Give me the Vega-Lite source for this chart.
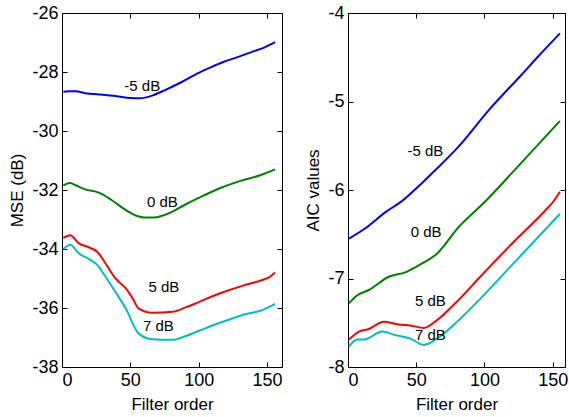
{
  "$schema": "https://vega.github.io/schema/vega-lite/v6.json",
  "padding": {"left": 8, "top": 3, "right": 0, "bottom": 0},
  "background": "white",
  "config": {
    "font": "Liberation Sans",
    "view": {"stroke": "black", "strokeWidth": 1},
    "axis": {
      "grid": false,
      "domain": false,
      "tickSize": -5,
      "tickColor": "black",
      "labelColor": "black",
      "labelFont": "Liberation Sans",
      "labelFontSize": 18,
      "labelPadding": 9,
      "labelExpr": "replace(datum.label, '\u2212', '-')",
      "titleFont": "Liberation Sans",
      "titleFontSize": 17,
      "titleFontWeight": "normal",
      "titleColor": "black"
    }
  },
  "datasets": {
    "mse": [
      {"order": 1, "value": -28.67, "snr": "-5 dB"},
      {"order": 5, "value": -28.65, "snr": "-5 dB"},
      {"order": 10, "value": -28.65, "snr": "-5 dB"},
      {"order": 17, "value": -28.72, "snr": "-5 dB"},
      {"order": 27, "value": -28.76, "snr": "-5 dB"},
      {"order": 40, "value": -28.82, "snr": "-5 dB"},
      {"order": 50, "value": -28.88, "snr": "-5 dB"},
      {"order": 57, "value": -28.89, "snr": "-5 dB"},
      {"order": 66, "value": -28.8, "snr": "-5 dB"},
      {"order": 75, "value": -28.62, "snr": "-5 dB"},
      {"order": 88, "value": -28.33, "snr": "-5 dB"},
      {"order": 100, "value": -28.03, "snr": "-5 dB"},
      {"order": 107.5, "value": -27.87, "snr": "-5 dB"},
      {"order": 118, "value": -27.66, "snr": "-5 dB"},
      {"order": 129.5, "value": -27.48, "snr": "-5 dB"},
      {"order": 140, "value": -27.3, "snr": "-5 dB"},
      {"order": 146.5, "value": -27.2, "snr": "-5 dB"},
      {"order": 156, "value": -26.99, "snr": "-5 dB"},
      {"order": 1, "value": -31.84, "snr": "0 dB"},
      {"order": 6, "value": -31.76, "snr": "0 dB"},
      {"order": 10, "value": -31.84, "snr": "0 dB"},
      {"order": 17, "value": -31.98, "snr": "0 dB"},
      {"order": 27, "value": -32.09, "snr": "0 dB"},
      {"order": 36, "value": -32.33, "snr": "0 dB"},
      {"order": 46, "value": -32.66, "snr": "0 dB"},
      {"order": 55, "value": -32.88, "snr": "0 dB"},
      {"order": 60, "value": -32.93, "snr": "0 dB"},
      {"order": 67, "value": -32.93, "snr": "0 dB"},
      {"order": 80, "value": -32.75, "snr": "0 dB"},
      {"order": 90, "value": -32.5, "snr": "0 dB"},
      {"order": 100, "value": -32.27, "snr": "0 dB"},
      {"order": 115, "value": -31.95, "snr": "0 dB"},
      {"order": 130, "value": -31.7, "snr": "0 dB"},
      {"order": 145, "value": -31.5, "snr": "0 dB"},
      {"order": 156, "value": -31.3, "snr": "0 dB"},
      {"order": 1, "value": -33.62, "snr": "5 dB"},
      {"order": 6, "value": -33.53, "snr": "5 dB"},
      {"order": 12.4, "value": -33.81, "snr": "5 dB"},
      {"order": 20, "value": -33.95, "snr": "5 dB"},
      {"order": 25.8, "value": -34.09, "snr": "5 dB"},
      {"order": 32, "value": -34.5, "snr": "5 dB"},
      {"order": 39, "value": -34.99, "snr": "5 dB"},
      {"order": 46.6, "value": -35.33, "snr": "5 dB"},
      {"order": 52, "value": -35.7, "snr": "5 dB"},
      {"order": 56, "value": -36.01, "snr": "5 dB"},
      {"order": 66, "value": -36.16, "snr": "5 dB"},
      {"order": 80.7, "value": -36.13, "snr": "5 dB"},
      {"order": 90.5, "value": -35.98, "snr": "5 dB"},
      {"order": 100, "value": -35.8, "snr": "5 dB"},
      {"order": 112.4, "value": -35.56, "snr": "5 dB"},
      {"order": 122, "value": -35.4, "snr": "5 dB"},
      {"order": 131.9, "value": -35.25, "snr": "5 dB"},
      {"order": 146.5, "value": -35.05, "snr": "5 dB"},
      {"order": 152, "value": -34.95, "snr": "5 dB"},
      {"order": 156, "value": -34.8, "snr": "5 dB"},
      {"order": 1, "value": -34.01, "snr": "7 dB"},
      {"order": 6, "value": -33.86, "snr": "7 dB"},
      {"order": 12.4, "value": -34.15, "snr": "7 dB"},
      {"order": 20, "value": -34.35, "snr": "7 dB"},
      {"order": 25.8, "value": -34.54, "snr": "7 dB"},
      {"order": 32, "value": -34.95, "snr": "7 dB"},
      {"order": 39, "value": -35.45, "snr": "7 dB"},
      {"order": 46.6, "value": -36.01, "snr": "7 dB"},
      {"order": 56, "value": -36.86, "snr": "7 dB"},
      {"order": 66, "value": -37.06, "snr": "7 dB"},
      {"order": 80.7, "value": -37.08, "snr": "7 dB"},
      {"order": 90.5, "value": -36.95, "snr": "7 dB"},
      {"order": 100, "value": -36.78, "snr": "7 dB"},
      {"order": 112.4, "value": -36.55, "snr": "7 dB"},
      {"order": 122, "value": -36.4, "snr": "7 dB"},
      {"order": 131.9, "value": -36.24, "snr": "7 dB"},
      {"order": 146.5, "value": -36.07, "snr": "7 dB"},
      {"order": 156, "value": -35.86, "snr": "7 dB"}
    ],
    "aic": [
      {"order": 0.7, "value": -6.55, "snr": "-5 dB"},
      {"order": 13, "value": -6.43, "snr": "-5 dB"},
      {"order": 27.5, "value": -6.25, "snr": "-5 dB"},
      {"order": 40, "value": -6.12, "snr": "-5 dB"},
      {"order": 54.3, "value": -5.92, "snr": "-5 dB"},
      {"order": 65, "value": -5.76, "snr": "-5 dB"},
      {"order": 81, "value": -5.51, "snr": "-5 dB"},
      {"order": 103, "value": -5.1, "snr": "-5 dB"},
      {"order": 127, "value": -4.7, "snr": "-5 dB"},
      {"order": 140, "value": -4.48, "snr": "-5 dB"},
      {"order": 155.3, "value": -4.23, "snr": "-5 dB"},
      {"order": 0.7, "value": -7.28, "snr": "0 dB"},
      {"order": 6.8, "value": -7.19, "snr": "0 dB"},
      {"order": 15.3, "value": -7.13, "snr": "0 dB"},
      {"order": 29.9, "value": -6.98, "snr": "0 dB"},
      {"order": 42, "value": -6.93, "snr": "0 dB"},
      {"order": 54.3, "value": -6.83, "snr": "0 dB"},
      {"order": 65.2, "value": -6.72, "snr": "0 dB"},
      {"order": 81, "value": -6.42, "snr": "0 dB"},
      {"order": 100.5, "value": -6.13, "snr": "0 dB"},
      {"order": 122.4, "value": -5.77, "snr": "0 dB"},
      {"order": 155.3, "value": -5.22, "snr": "0 dB"},
      {"order": 0.7, "value": -7.69, "snr": "5 dB"},
      {"order": 8, "value": -7.6, "snr": "5 dB"},
      {"order": 15.3, "value": -7.57, "snr": "5 dB"},
      {"order": 26.3, "value": -7.49, "snr": "5 dB"},
      {"order": 37.2, "value": -7.52, "snr": "5 dB"},
      {"order": 45.7, "value": -7.53, "snr": "5 dB"},
      {"order": 55.5, "value": -7.56, "snr": "5 dB"},
      {"order": 65.2, "value": -7.47, "snr": "5 dB"},
      {"order": 78.6, "value": -7.28, "snr": "5 dB"},
      {"order": 98.1, "value": -6.96, "snr": "5 dB"},
      {"order": 122.4, "value": -6.57, "snr": "5 dB"},
      {"order": 144, "value": -6.24, "snr": "5 dB"},
      {"order": 150.5, "value": -6.13, "snr": "5 dB"},
      {"order": 155.3, "value": -6.02, "snr": "5 dB"},
      {"order": 0.7, "value": -7.77, "snr": "7 dB"},
      {"order": 6.8, "value": -7.69, "snr": "7 dB"},
      {"order": 11.7, "value": -7.69, "snr": "7 dB"},
      {"order": 25, "value": -7.6, "snr": "7 dB"},
      {"order": 34.8, "value": -7.64, "snr": "7 dB"},
      {"order": 45.7, "value": -7.68, "snr": "7 dB"},
      {"order": 55.5, "value": -7.75, "snr": "7 dB"},
      {"order": 65.2, "value": -7.68, "snr": "7 dB"},
      {"order": 79.8, "value": -7.49, "snr": "7 dB"},
      {"order": 98.1, "value": -7.21, "snr": "7 dB"},
      {"order": 122.4, "value": -6.81, "snr": "7 dB"},
      {"order": 155.3, "value": -6.27, "snr": "7 dB"}
    ],
    "mseLabels": [
      {"order": 58.7, "value": -28.47, "label": "-5 dB"},
      {"order": 73.4, "value": -32.4, "label": "0 dB"},
      {"order": 74.6, "value": -35.28, "label": "5 dB"},
      {"order": 70.5, "value": -36.61, "label": "7 dB"}
    ],
    "aicLabels": [
      {"order": 56.7, "value": -5.56, "label": "-5 dB"},
      {"order": 57.2, "value": -6.48, "label": "0 dB"},
      {"order": 60.4, "value": -7.25, "label": "5 dB"},
      {"order": 60.4, "value": -7.64, "label": "7 dB"}
    ]
  },
  "spacing": 21,
  "hconcat": [
    {
      "width": 220,
      "height": 354,
      "resolve": {"axis": {"x": "independent", "y": "independent"}},
      "layer": [
        {
          "data": {"name": "mse"},
          "mark": {"type": "line", "strokeWidth": 2, "interpolate": "monotone"},
          "encoding": {
            "x": {"field": "order", "type": "quantitative", "scale": {"domain": [0, 161], "nice": false, "zero": false},
                  "axis": {"orient": "bottom", "values": [0, 50, 100, 150], "title": "Filter order", "titlePadding": 7}},
            "y": {"field": "value", "type": "quantitative", "scale": {"domain": [-38, -26], "nice": false, "zero": false},
                  "axis": {"orient": "left", "values": [-38, -36, -34, -32, -30, -28, -26], "title": "MSE (dB)", "titlePadding": 5}},
            "color": {"field": "snr", "type": "nominal", "legend": null,
                      "scale": {"domain": ["-5 dB", "0 dB", "5 dB", "7 dB"], "range": ["#0000ff", "#008000", "#ff0000", "#00bfbf"]}}
          }
        },
        {
          "data": {"name": "mseLabels"},
          "mark": {"type": "text", "fontSize": 15, "font": "Liberation Sans", "color": "black"},
          "encoding": {
            "x": {"field": "order", "type": "quantitative", "axis": {"orient": "top", "values": [0, 50, 100, 150], "labels": false, "title": null}},
            "y": {"field": "value", "type": "quantitative", "axis": {"orient": "right", "values": [-38, -36, -34, -32, -30, -28, -26], "labels": false, "title": null}},
            "text": {"field": "label"}
          }
        }
      ]
    },
    {
      "width": 217,
      "height": 354,
      "resolve": {"axis": {"x": "independent", "y": "independent"}},
      "layer": [
        {
          "data": {"name": "aic"},
          "mark": {"type": "line", "strokeWidth": 2, "interpolate": "monotone"},
          "encoding": {
            "x": {"field": "order", "type": "quantitative", "scale": {"domain": [0, 159], "nice": false, "zero": false},
                  "axis": {"orient": "bottom", "values": [0, 50, 100, 150], "title": "Filter order", "titlePadding": 7}},
            "y": {"field": "value", "type": "quantitative", "scale": {"domain": [-8, -4], "nice": false, "zero": false},
                  "axis": {"orient": "left", "values": [-8, -7, -6, -5, -4], "title": "AIC values", "titlePadding": 5}},
            "color": {"field": "snr", "type": "nominal", "legend": null,
                      "scale": {"domain": ["-5 dB", "0 dB", "5 dB", "7 dB"], "range": ["#0000ff", "#008000", "#ff0000", "#00bfbf"]}}
          }
        },
        {
          "data": {"name": "aicLabels"},
          "mark": {"type": "text", "fontSize": 15, "font": "Liberation Sans", "color": "black"},
          "encoding": {
            "x": {"field": "order", "type": "quantitative", "axis": {"orient": "top", "values": [0, 50, 100, 150], "labels": false, "title": null}},
            "y": {"field": "value", "type": "quantitative", "axis": {"orient": "right", "values": [-8, -7, -6, -5, -4], "labels": false, "title": null}},
            "text": {"field": "label"}
          }
        }
      ]
    }
  ]
}
